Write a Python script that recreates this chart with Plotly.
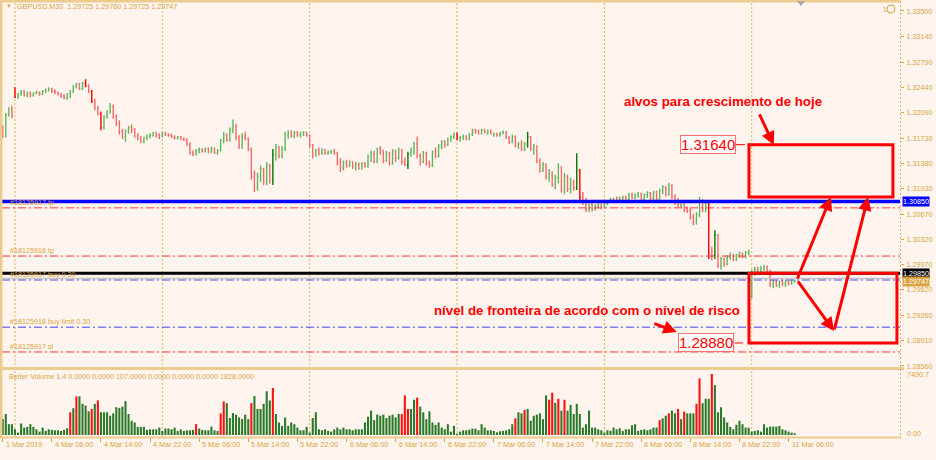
import plotly.graph_objects as go

# ------------------------------------------------------------------ data
# GBPUSD M30 bars, prices given as pips relative to 1.30000
BASE, PIP = 1.30000, 0.0001

open_pips = [
    190, 176, 205, 214, 243, 230, 235, 238, 233, 236,
    233, 236, 237, 235, 238, 240, 242, 239, 237, 235,
    232, 230, 235, 238, 245, 248, 242, 249, 246, 238,
    225, 215, 207, 188, 203, 210, 218, 203, 193, 182,
    175, 183, 188, 185, 176, 172, 169, 173, 176, 178,
    180, 177, 176, 180, 178, 177,
    174, 173, 175, 172, 171, 165, 153, 151, 156, 157,
    155, 158, 154, 159, 153, 156, 170, 178, 171, 185,
    190, 174, 162, 176, 172, 158, 120, 105, 120, 130,
    112, 135, 115, 150, 160, 148, 158, 178, 180, 176,
    181, 178, 180, 181, 177, 163, 150, 156, 152, 157,
    152, 154, 155, 152, 140, 132, 139, 135, 140, 133,
    137, 131, 138, 134, 147, 152, 141, 158, 155, 142,
    152, 138, 155, 145, 156, 140, 136, 151, 158, 165,
    148, 140, 152, 138, 135, 154, 148, 162, 168, 164,
    172, 175, 179, 173, 174, 176, 172, 178, 184, 183,
    180, 184, 181, 183, 177, 179, 177, 180, 181, 174,
    168, 175, 163, 165, 158, 165, 175, 158, 162, 142,
    130, 136, 118, 125, 108, 118, 132, 100, 120, 102,
    112, 104, 128, 90, 84, 74, 80, 75, 79, 80,
    77, 82, 85, 88, 86, 90, 87, 91, 88, 95,
    90, 94, 96, 88, 94, 97, 89, 98, 88, 100,
    105, 95, 107, 92, 84, 80, 85, 73, 72, 63,
    56, 66, 85, 74, 82, 12, 10, 38, -4, 5,
    -2, 8, 11, 4, 10, 13, 8, 14, -48, -15,
    -10, -12, -8, -6, -12, -30, -27, -31, -26, -30,
    -27, -29, -27.5,
]
high_pips = [
    191, 208, 216, 218, 244, 236, 240, 240, 238, 238,
    237, 239, 238, 240, 242, 244, 243, 241, 238, 236,
    234, 236, 240, 247, 250, 250, 251, 255, 248, 240,
    228, 218, 210, 205, 212, 222, 220, 206, 198, 186,
    185, 190, 192, 187, 180, 176, 175, 178, 180, 182,
    182, 180, 182, 182, 180, 179,
    177, 176, 176, 174, 173, 167, 156, 158, 160, 159,
    160, 160, 161, 160, 158, 172, 182, 180, 188, 199,
    193, 177, 180, 182, 174, 160, 128, 125, 135, 132,
    140, 137, 158, 165, 162, 162, 182, 184, 184, 183,
    183, 182, 183, 182, 178, 165, 158, 160, 159, 158,
    156, 157, 158, 154, 145, 142, 143, 142, 141, 140,
    139, 140, 140, 150, 156, 155, 160, 162, 157, 155,
    154, 158, 157, 160, 158, 146, 154, 160, 168, 175,
    152, 155, 154, 142, 156, 160, 165, 170, 170, 174,
    177, 181, 181, 176, 178, 177, 180, 186, 186, 185,
    186, 186, 185, 185, 181, 181, 182, 184, 183, 176,
    178, 177, 168, 170, 168, 182, 176, 165, 163, 145,
    140, 138, 130, 127, 122, 138, 134, 125, 122, 118,
    115, 152, 130, 98, 90, 82, 83, 81, 83, 82,
    84, 87, 90, 90, 92, 92, 93, 93, 97, 97,
    96, 98, 97, 96, 99, 98, 100, 100, 103, 108,
    106, 111, 109, 95, 90, 87, 86, 78, 76, 68,
    70, 91, 88, 84, 85, 22, 45, 40, 8, 7,
    10, 14, 12, 12, 15, 14, 16, 18, -10, -6,
    -6, -5, -3, -4, -10, -24, -24, -25, -24, -24,
    -25, -24, -24,
]
low_pips = [
    173, 174, 203, 201, 229, 228, 232, 231, 230, 230,
    231, 234, 232, 233, 236, 238, 236, 234, 232, 229,
    227, 226, 229, 236, 242, 240, 240, 244, 236, 222,
    212, 205, 184, 185, 200, 207, 200, 190, 178, 172,
    168, 179, 180, 174, 170, 166, 166, 170, 173, 175,
    174, 172, 174, 176, 175, 173,
    171, 171, 170, 169, 162, 150, 148, 149, 152, 153,
    153, 152, 152, 151, 150, 154, 166, 168, 168, 180,
    170, 158, 158, 170, 155, 115, 98, 100, 112, 108,
    108, 110, 108, 142, 145, 145, 155, 172, 174, 173,
    175, 174, 176, 175, 160, 145, 147, 149, 150, 150,
    150, 151, 150, 135, 126, 128, 132, 133, 130, 128,
    129, 129, 132, 132, 140, 138, 138, 150, 138, 140,
    135, 136, 140, 143, 136, 134, 130, 147, 150, 145,
    135, 138, 135, 132, 133, 145, 146, 158, 160, 162,
    168, 172, 170, 168, 170, 170, 170, 176, 179, 178,
    178, 180, 178, 178, 175, 175, 175, 178, 172, 165,
    166, 160, 158, 155, 155, 160, 155, 150, 138, 125,
    126, 115, 112, 105, 102, 110, 97, 95, 98, 96,
    100, 101, 87, 80, 70, 70, 71, 72, 75, 74,
    75, 80, 83, 84, 84, 85, 85, 86, 86, 88,
    88, 90, 86, 85, 90, 86, 87, 85, 86, 95,
    92, 93, 88, 80, 77, 76, 70, 69, 60, 52,
    53, 63, 70, 70, 5, 3, 5, -8, -10, -6,
    -4, 4, 2, 2, 6, 6, 6, 10, -50, -18,
    -16, -15, -12, -14, -34, -36, -34, -35, -33, -34,
    -32, -31, -27.5,
]
close_pips = [
    176, 205, 214, 204, 230, 235, 238, 233, 236, 233,
    236, 237, 235, 238, 240, 242, 239, 237, 235, 232,
    230, 235, 238, 245, 248, 242, 249, 246, 238, 225,
    215, 207, 188, 203, 210, 218, 203, 193, 182, 175,
    183, 188, 185, 176, 172, 169, 173, 176, 178, 180,
    177, 176, 180, 178, 177, 175,
    173, 175, 172, 171, 165, 153, 151, 156, 157, 155,
    158, 154, 159, 153, 156, 170, 178, 171, 185, 190,
    174, 162, 176, 172, 158, 120, 105, 120, 130, 112,
    135, 115, 150, 160, 148, 158, 178, 180, 176, 181,
    178, 180, 181, 177, 163, 150, 156, 152, 157, 152,
    154, 155, 152, 140, 132, 139, 135, 140, 133, 137,
    131, 138, 134, 147, 152, 141, 158, 155, 142, 152,
    138, 155, 145, 156, 140, 136, 151, 158, 165, 148,
    140, 152, 138, 135, 154, 148, 162, 168, 164, 172,
    175, 179, 173, 174, 176, 172, 178, 184, 183, 180,
    184, 181, 183, 179, 179, 177, 180, 181, 174, 168,
    175, 163, 165, 158, 165, 175, 158, 162, 142, 130,
    136, 118, 125, 108, 118, 132, 100, 120, 102, 112,
    104, 128, 90, 84, 74, 80, 75, 79, 80, 77,
    82, 85, 88, 86, 90, 87, 91, 88, 95, 90,
    94, 96, 88, 94, 97, 89, 98, 88, 100, 105,
    95, 107, 92, 84, 80, 85, 73, 72, 63, 56,
    66, 85, 74, 82, 12, 10, 38, -4, 5, -2,
    8, 11, 4, 10, 13, 8, 14, 15, -15, -10,
    -12, -8, -6, -12, -30, -27, -31, -26, -30, -27,
    -29, -26, -25.3,
]
# bars painted in the strong (dark) colours
strong_bars = [4, 27, 29, 32, 88, 132, 148, 171, 187, 188, 230, 232]

volume = [
    1955, 2580, 1330, 1330, 700, 290, 1415, 915, 1000, 1330,
    1000, 700, 415, 915, 500, 700, 625, 580, 580, 500,
    625, 830, 2790, 3290, 4740, 4740, 3830, 3620, 2910, 3200,
    3830, 4240, 2790, 2790, 2790, 2370, 2660, 3410, 3330, 3490,
    4160, 2580, 1750, 1540, 1000, 1000, 1000, 625, 700, 700,
    700, 915, 500, 790, 790, 700,
    915, 500, 700, 500, 580, 580, 625, 1330, 790, 625,
    580, 580, 1040, 580, 500, 2660, 4120, 3910, 2080, 2700,
    2500, 2160, 1955, 2500, 1955, 3910, 4780, 3200, 3200, 3830,
    5370, 4240, 5780, 2580, 1540, 1120, 2160, 1120, 1540, 1330,
    915, 580, 580, 1000, 290, 2080, 2790, 700, 580, 700,
    500, 415, 700, 915, 700, 915, 700, 700, 580, 700,
    700, 700, 1540, 2250, 3000, 1830, 2500, 2370, 2500, 2080,
    2370, 2500, 2160, 2580,
    2580, 4870, 3200, 3200, 4330, 4580, 3490, 2790, 1955, 2910,
    1540, 1250, 1540, 915, 700, 1330, 415, 1120, 165, 415,
    580, 580, 665, 790, 790, 580, 1330, 915, 580, 580,
    500, 330, 460, 500, 580, 700, 1330, 2040, 2790, 2660,
    3080, 3200, 1750, 2370, 2500, 2660, 1955, 4870, 4330, 5200,
    3950, 4450, 3000, 4330, 3000, 3700, 2580, 3830, 2580, 915,
    1330, 3000, 915, 915, 700, 580, 290, 580, 500, 915,
    700, 830, 500, 700, 700, 1200, 1330, 500, 625, 700,
    580, 700, 915, 915, 1830, 2040, 2370, 2660, 3000, 2660,
    3200, 1955, 2870, 2660, 2660, 2660, 3830, 6950, 3910, 4450,
    4450, 7490.7, 6120, 2790, 3410, 2160, 1540, 1000, 700, 1250,
    1750, 1330, 915, 915, 415, 500, 580, 415, 1330, 915,
    1040, 1040, 1040, 1120, 700, 580, 415, 290, 210,
]
volume_red = [22, 24, 29, 31, 63, 71, 72, 81, 88, 130, 131, 132, 135, 167, 170,
              178, 179, 181, 183, 214, 217, 220, 222, 226, 227, 231]

time_tick_bars = [0, 16, 32, 48, 64, 80, 96, 112, 128, 144, 160, 176, 192, 208, 224, 240, 256]
time_tick_labels = ["1 Mar 2019", "4 Mar 06:00", "4 Mar 14:00", "4 Mar 22:00", "5 Mar 06:00",
                    "5 Mar 14:00", "5 Mar 22:00", "6 Mar 06:00", "6 Mar 14:00", "6 Mar 22:00",
                    "7 Mar 06:00", "7 Mar 14:00", "7 Mar 22:00", "8 Mar 06:00", "8 Mar 14:00",
                    "8 Mar 22:00", "11 Mar 06:00"]
day_start_bars = [4, 52, 100, 148, 196, 244]
price_ticks = [1.33500, 1.33140, 1.32790, 1.32440, 1.32090, 1.31730, 1.31380, 1.31030,
               1.30670, 1.30320, 1.29970, 1.29620, 1.29260, 1.28910, 1.28560]

# levels
level_blue = 1.30850
level_black = 1.29850
bid_price = 1.29747
order_levels = [  # (price, label, kind)
    (1.30760, "#18125917 tp", "red"),
    (1.30090, "#18125918 tp", "red"),
    (1.29757, "#18125917 buy 0.30", "blue"),
    (1.29100, "#18125918 buy limit 0.30", "blue"),
    (1.28755, "#18125917 sl", "red"),
]
target_high = 1.31640
target_low = 1.28880

n = len(open_pips)
assert n == len(high_pips) == len(low_pips) == len(close_pips) == len(volume)
idx = list(range(n))
o = [BASE + v * PIP for v in open_pips]
h = [BASE + v * PIP for v in high_pips]
lo = [BASE + v * PIP for v in low_pips]
c = [BASE + v * PIP for v in close_pips]

# ------------------------------------------------------------------ style
BG = "#FFF5EE"
TXT = "#D9A441"
GRID = "#DFB25A"
BORDER = "#EBCB8E"
FONT = "Liberation Sans, Arial, sans-serif"
UP, DN = "#5DB85D", "#F26A6A"
UP_S, DN_S = "#007800", "#FF0000"

W, Hh = 936, 460
ML, MR, MT, MB = 2, 36, 3, 23
PW = W - ML - MR
PH = Hh - MT - MB


def px(x):
    return (x - ML) / PW


def py(y):
    return (Hh - MB - y) / PH


fig = go.Figure()

normal = [i for i in idx if i not in strong_bars]
for sel, uc, dc in ((normal, UP, DN), (strong_bars, UP_S, DN_S)):
    fig.add_trace(go.Ohlc(
        x=sel, open=[o[i] for i in sel], high=[h[i] for i in sel],
        low=[lo[i] for i in sel], close=[c[i] for i in sel],
        increasing=dict(line=dict(color=uc, width=1.4)),
        decreasing=dict(line=dict(color=dc, width=1.4)),
        tickwidth=0.3, hoverinfo="skip", showlegend=False,
        xaxis="x", yaxis="y"))

vcol = ["#FF1010" if i in volume_red else "#2B7A2B" for i in idx]
fig.add_trace(go.Bar(x=idx, y=volume, marker=dict(color=vcol, line=dict(width=0)),
                     width=0.68, hoverinfo="skip", showlegend=False,
                     xaxis="x", yaxis="y2"))

shapes = []
# vertical day grid
for b in day_start_bars:
    shapes.append(dict(type="line", xref="x", yref="paper", x0=b, x1=b, y0=0, y1=1,
                       line=dict(color=GRID, width=1, dash="2px,2px"), layer="below"))

DASHDOT = "8px,3px,2px,3px"
# order lines
for price, label, kind in order_levels:
    col = "#FF3030" if kind == "red" else "#3C3CFF"
    shapes.append(dict(type="line", xref="paper", yref="y", x0=0, x1=1, y0=price, y1=price,
                       line=dict(color=col, width=1, dash=DASHDOT)))
# bid line (grey) and main horizontal lines
shapes.append(dict(type="line", xref="paper", yref="y", x0=0, x1=1, y0=1.29778, y1=1.29778,
                   line=dict(color="#C4C4C4", width=1.5)))
shapes.append(dict(type="line", xref="paper", yref="y", x0=0, x1=1, y0=level_blue, y1=level_blue,
                   line=dict(color="#0000FF", width=3.5)))
shapes.append(dict(type="line", xref="paper", yref="y", x0=0, x1=1, y0=level_black, y1=level_black,
                   line=dict(color="#000000", width=3)))

# target rectangles
shapes.append(dict(type="rect", xref="x", yref="y", x0=243.1, x1=290.0, y0=1.30910, y1=target_high,
                   line=dict(color="#FF0000", width=3)))
shapes.append(dict(type="rect", xref="x", yref="y", x0=243.1, x1=291.3, y0=target_low, y1=level_black,
                   line=dict(color="#FF0000", width=3)))
# small connectors from price labels
shapes.append(dict(type="line", xref="x", yref="y", x0=238.9, x1=241.8, y0=target_high, y1=target_high,
                   line=dict(color="#FF0000", width=1)))
shapes.append(dict(type="line", xref="x", yref="y", x0=238.5, x1=241.1, y0=target_low, y1=target_low,
                   line=dict(color="#FF0000", width=1)))

# frame
shapes.append(dict(type="line", xref="paper", yref="paper", x0=px(1.2), x1=px(1.2), y0=py(0), y1=py(438),
                   line=dict(color=BORDER, width=2.5)))
shapes.append(dict(type="line", xref="paper", yref="paper", x0=px(0), x1=px(901), y0=py(1.3), y1=py(1.3),
                   line=dict(color=BORDER, width=2.5)))
shapes.append(dict(type="rect", xref="paper", yref="paper", x0=px(0), x1=px(904), y0=py(370), y1=py(367),
                   fillcolor=BORDER, line=dict(width=0)))
shapes.append(dict(type="line", xref="paper", yref="paper", x0=px(0), x1=px(901), y0=py(437.6), y1=py(437.6),
                   line=dict(color=BORDER, width=2)))
shapes.append(dict(type="line", xref="paper", yref="paper", x0=px(900.5), x1=px(900.5), y0=py(1), y1=py(438),
                   line=dict(color=GRID, width=1, dash="2px,2px")))
# chart-shift marker and icon
shapes.append(dict(type="path", xref="paper", yref="paper",
                   path=f"M {px(797)},{py(1)} L {px(805)},{py(1)} L {px(801)},{py(6)} Z",
                   fillcolor="#A8A8A8", line=dict(width=0)))
shapes.append(dict(type="circle", xref="paper", yref="paper", x0=px(887), x1=px(895), y0=py(13), y1=py(5),
                   line=dict(color=TXT, width=1)))

ann = []


def txt(x, y, s, size=7.2, color=TXT, xanchor="left", yanchor="middle", xref="paper", yref="paper", **kw):
    ann.append(dict(x=x, y=y, xref=xref, yref=yref, text=s, showarrow=False, xanchor=xanchor,
                    yanchor=yanchor, font=dict(family=FONT, size=size, color=color), **kw))


# header
txt(px(4), py(6), "▼", size=6)
txt(px(15), py(7), "GBPUSD,M30\u00a0\u00a01.29725 1.29760 1.29725 1.29747")
txt(px(881), py(9), "1")
txt(px(7), py(377), "Better Volume 1.4 0.0000 0.0000 107.0000 0.0000 0.0000 0.0000 1828.0000")
txt(px(905), py(374), "7490.7")
txt(px(905), py(433), "0.00")

# time labels
for b, lab in zip(time_tick_bars, time_tick_labels):
    txt(b, py(445), lab, xref="x", xshift=1)

# order labels
for price, label, kind in order_levels:
    txt(px(8), price, label, yref="y", yanchor="bottom", yshift=-1)

# price-axis flags
for price, bgc, fc, ys in ((level_blue, "#0000FF", "#FFFFFF", 0), (level_black, "#000000", "#FFFFFF", 0),
                           (bid_price, "#D9A441", "#FFFFFF", -1)):
    ann.append(dict(x=1, y=price, xref="paper", yref="y", xanchor="left", yanchor="middle", xshift=2,
                    yshift=ys, text=f"{price:.5f}", showarrow=False, bgcolor=bgc, borderpad=0,
                    font=dict(family=FONT, size=7.2, color=fc)))

# red comments
txt(234.6, 1.32234, "<b>alvos para crescimento de hoje</b>", size=13.3, color="#FF0000",
    xanchor="center", xref="x", yref="y")
txt(190.3, 1.29339, "<b>nível de fronteira de acordo com o nível de risco</b>", size=13.3,
    color="#FF0000", xanchor="center", xref="x", yref="y")
for price, bx in ((target_high, 229.6), (target_low, 229.2)):
    ann.append(dict(x=bx, y=price, xref="x", yref="y", xanchor="center", yanchor="middle",
                    text=f"{price:.5f}", showarrow=False, bgcolor="#FFFDFB", bordercolor="#FF7070",
                    borderwidth=1, borderpad=0, font=dict(family=FONT, size=15, color="#FF0000")))

arrows = [  # (tail_x, tail_y, head_x, head_y)
    (246.3, 1.32081, 251.2, 1.31635),
    (211.8, 1.29158, 219.6, 1.29033),
    (258.7, 1.29757, 269.8, 1.30912),
    (258.7, 1.29757, 270.8, 1.29047),
    (270.8, 1.29047, 281.9, 1.30912),
]
for tx, ty, hx, hy in arrows:
    ann.append(dict(x=hx, y=hy, ax=tx, ay=ty, xref="x", yref="y", axref="x", ayref="y",
                    showarrow=True, arrowhead=2, arrowsize=0.9, arrowwidth=3, arrowcolor="#FF0000",
                    text="", standoff=0, startstandoff=0))

fig.update_layout(
    width=W, height=Hh, margin=dict(l=ML, r=MR, t=MT, b=MB),
    paper_bgcolor=BG, plot_bgcolor=BG, showlegend=False,
    xaxis=dict(range=[-0.23, 292.3], anchor="y2", showgrid=False, zeroline=False, showline=False,
               tickvals=time_tick_bars, ticks="outside", ticklen=4, tickcolor=TXT,
               showticklabels=False, rangeslider=dict(visible=False), fixedrange=True),
    yaxis=dict(domain=[py(368), 1], range=[1.28532, 1.33611], side="right",
               tickvals=price_ticks, ticktext=[f"{v:.5f}" for v in price_ticks],
               ticks="outside", ticklen=3, tickcolor=TXT, ticklabelstandoff=1,
               tickfont=dict(family=FONT, size=7.2, color=TXT),
               showgrid=False, zeroline=False, showline=False),
    yaxis2=dict(domain=[0, py(370)], range=[-245.6, 7982], showticklabels=False,
                showgrid=False, zeroline=False, showline=False),
    shapes=shapes, annotations=ann,
)

fig.write_html("out.html", config={"displayModeBar": False, "staticPlot": True},
               post_script="document.body.style.margin='0';document.body.style.background='#FFF5EE';")
